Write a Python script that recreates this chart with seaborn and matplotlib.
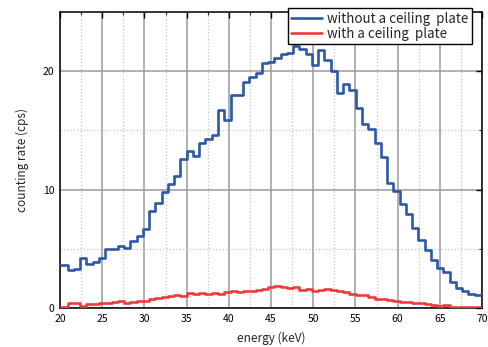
import numpy as np
import pandas as pd
import matplotlib
matplotlib.use("Agg")
import matplotlib.pyplot as plt
from matplotlib.ticker import MultipleLocator
import seaborn as sns

# Spectrum binning (keV)
bin_start = 19.426
bin_width = 0.742

# Counting rate per bin (cps)
without_plate = [
    3.65, 3.65, 3.2, 3.3, 4.2, 3.75, 3.85, 4.2, 4.95, 4.95,
    5.2, 5.05, 5.7, 6.1, 6.7, 8.2, 8.83, 9.79, 10.46, 11.14,
    12.57, 13.25, 12.88, 13.9, 14.24, 14.6, 16.7, 15.86, 17.97, 17.97,
    19.05, 19.47, 19.89, 20.73, 20.8, 21.12, 21.43, 21.54, 22.1, 21.86,
    21.43, 20.56, 21.8, 20.93, 20.03, 18.2, 18.96, 18.4, 16.93, 15.58,
    15.08, 13.9, 12.72, 10.52, 9.85, 8.75, 7.93, 6.78, 5.74, 4.89,
    4.05, 3.35, 3.07, 2.22, 1.66, 1.46, 1.18, 1.12, 1.18,
]
with_plate = [
    0.05, 0.05, 0.45, 0.45, 0.17, 0.31, 0.35, 0.39, 0.45, 0.48,
    0.56, 0.42, 0.53, 0.56, 0.56, 0.79, 0.82, 0.9, 1.04, 1.13,
    1.04, 1.24, 1.15, 1.24, 1.18, 1.27, 1.18, 1.32, 1.43, 1.38,
    1.43, 1.41, 1.52, 1.6, 1.75, 1.86, 1.75, 1.66, 1.75, 1.52,
    1.58, 1.43, 1.52, 1.58, 1.52, 1.43, 1.32, 1.18, 1.07, 1.13,
    0.9, 0.79, 0.77, 0.65, 0.62, 0.51, 0.51, 0.42, 0.39, 0.31,
    0.22, 0.17, 0.25, 0.11, 0.11, 0.11, 0.06, 0.06, 0.06,
]
labels = ["without a ceiling  plate", "with a ceiling  plate"]
colors = ["#2d58a8", "#f03a3a"]

sns.set_style("white")
plt.rcParams["font.family"] = ["Noto Sans CJK JP", "DejaVu Sans"]

n = len(without_plate)
edges = bin_start + bin_width * np.arange(n + 1)

frames = []
for lab, vals in zip(labels, [without_plate, with_plate]):
    frames.append(pd.DataFrame({
        "energy": edges,
        "rate": list(vals) + [vals[-1]],
        "series": lab,
    }))
df = pd.concat(frames, ignore_index=True)

fig = plt.figure(figsize=(4.89, 3.47), dpi=100)
ax = fig.add_axes([0.1227, 0.1124, 0.8630, 0.8530])

for lab, col in zip(labels, colors):
    sns.lineplot(data=df[df["series"] == lab], x="energy", y="rate",
                 drawstyle="steps-post", color=col, linewidth=1.9,
                 estimator=None, sort=True, ax=ax, label=lab, zorder=3)

ax.set_xlim(20, 70)
ax.set_ylim(0, 25)

ax.xaxis.set_major_locator(MultipleLocator(5))
ax.xaxis.set_minor_locator(MultipleLocator(2.5))
ax.yaxis.set_major_locator(MultipleLocator(10))
ax.yaxis.set_minor_locator(MultipleLocator(5))

ax.grid(which="major", color="#9a9a9a", linestyle="-", linewidth=1.1)
ax.grid(which="minor", color="#c4c4c4", linestyle=":", linewidth=0.9)
ax.set_axisbelow(True)

ax.tick_params(which="major", direction="in", length=4, width=1.0,
               top=True, right=True, labelsize=7.5, colors="black", pad=4)
ax.tick_params(which="minor", direction="in", length=2, width=0.8,
               top=True, right=True)

for s in ax.spines.values():
    s.set_color("black")
    s.set_linewidth(1.1)

ax.set_xlabel("energy (keV)", fontsize=8.5, labelpad=6)
ax.set_ylabel("counting rate (cps)", fontsize=8.5, labelpad=10)

leg = ax.legend(loc="upper right", bbox_to_anchor=(0.976, 1.012),
                borderaxespad=0, fontsize=9.6, frameon=True, fancybox=False,
                framealpha=1, edgecolor="black", handlelength=2.3,
                handletextpad=0.4, borderpad=0.25, labelspacing=0.1)
leg.get_frame().set_linewidth(1.0)
leg.set_zorder(5)

fig.savefig("out.png", dpi=100)
